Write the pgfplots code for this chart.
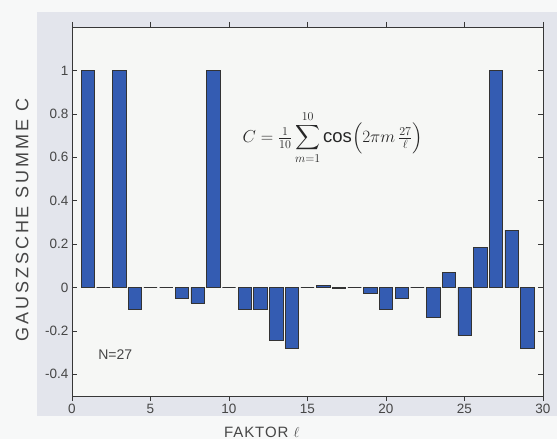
\documentclass[border=0pt]{standalone}
\usepackage{amsmath}
\usepackage{fontspec}
\setmainfont{Liberation Sans}
\newfontfamily\handfont[LetterSpace=16]{Liberation Sans}
\newfontfamily\handfontx[LetterSpace=6]{Liberation Sans}
\usepackage{pgfplots}
\pgfplotsset{compat=1.18}
\definecolor{barblue}{RGB}{52,92,178}
\definecolor{outergray}{RGB}{227,229,236}
\definecolor{plotbg}{RGB}{246,247,245}
\definecolor{paper}{RGB}{247,248,248}
\definecolor{framegray}{RGB}{55,55,55}
\definecolor{labelgray}{RGB}{70,70,70}

\begin{document}
\begin{tikzpicture}
% scanned page and the grey figure window
\fill[paper] (-72pt,-43pt) rectangle (485pt,396pt);
\fill[outergray] (-35pt,-20pt) rectangle (485pt,384pt);
\begin{axis}[
  width=471pt, height=369pt, scale only axis,
  xmin=0, xmax=30, ymin=-0.5, ymax=1.2,
  ybar, bar width=0.85,
  axis background/.style={fill=plotbg},
  axis line style={framegray, line width=0.7pt},
  xtick={0,5,...,30}, xticklabels={0,5,10,15,20,25,30},
  ytick={-0.4,-0.2,0,0.2,0.4,0.6,0.8,1},
  yticklabels={-0.4,-0.2,0,0.2,0.4,0.6,0.8,1},
  tick style={framegray, line width=0.6pt},
  major tick length=5pt,
  tick label style={font=\fontsize{13.5}{15}\selectfont, text=labelgray},
  xlabel={\handfontx FAKTOR $\ell$},
  xlabel style={at={(rel axis cs:0.403,-0.098)}, anchor=center, font=\fontsize{15}{17}\selectfont, text=labelgray},
  ylabel={\handfont GAUSZSCHE SUMME C},
  ylabel style={at={(rel axis cs:-0.106,0.477)}, anchor=center, font=\fontsize{18}{20}\selectfont, text=labelgray},
]
\addplot[fill=barblue, draw=black!80, line width=0.5pt] coordinates {
  (1,1) (2,0) (3,1) (4,-0.1) (5,0) (6,0) (7,-0.05) (8,-0.071) (9,1) (10,0)
  (11,-0.1) (12,-0.1) (13,-0.245) (14,-0.278) (15,0) (16,0.009) (17,-0.004)
  (18,0) (19,-0.026) (20,-0.1) (21,-0.05) (22,0) (23,-0.135) (24,0.071)
  (25,-0.222) (26,0.184) (27,1) (28,0.264) (29,-0.282)};
\node[anchor=west, font=\fontsize{14}{16}\selectfont, text=labelgray] at (axis cs:1.45,-0.31) {N=27};
\node[font=\fontsize{18.5}{22}\selectfont, text=black!85] at (axis cs:16.6,0.69)
  {$C=\tfrac{1}{10}\displaystyle\sum_{m=1}^{10}\cos\Bigl(2\pi m\,\tfrac{27}{\ell}\Bigr)$};
\end{axis}
\pgfresetboundingbox
\useasboundingbox (-72pt,-43pt) rectangle (485pt,396pt);
\end{tikzpicture}
\end{document}
